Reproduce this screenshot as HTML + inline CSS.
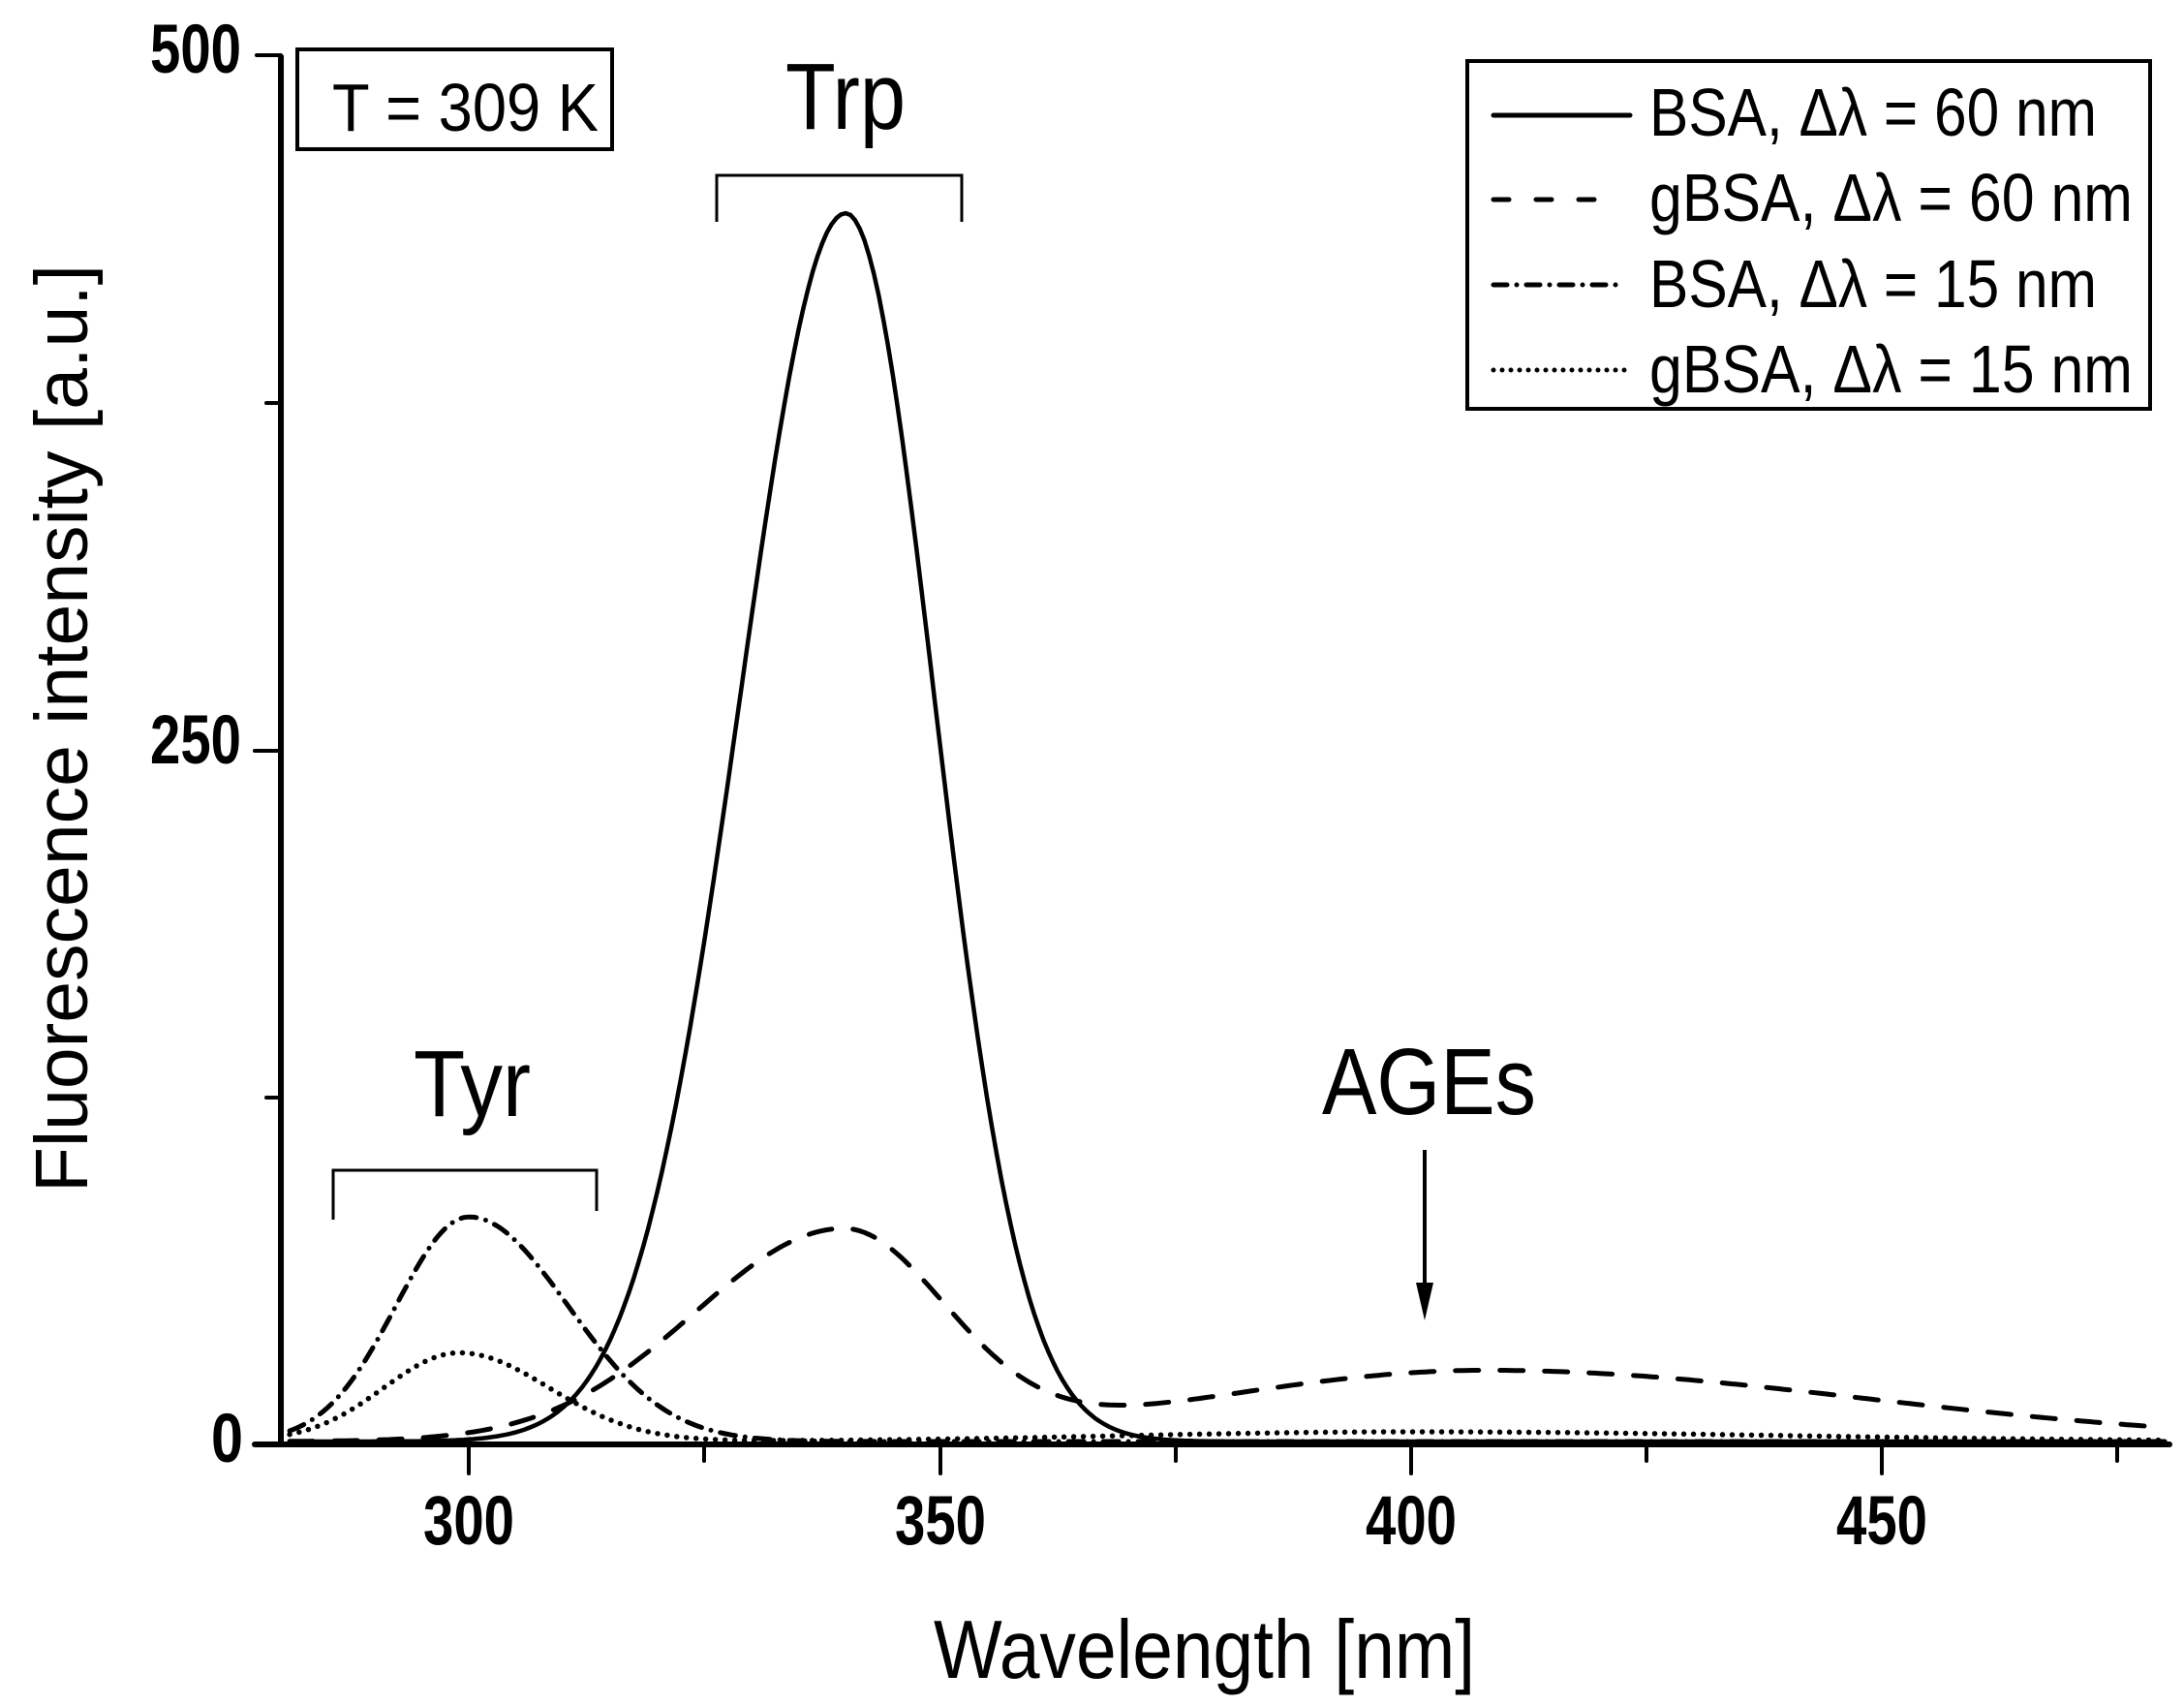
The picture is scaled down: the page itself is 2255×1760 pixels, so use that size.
<!DOCTYPE html>
<html><head><meta charset="utf-8"><style>
html,body{margin:0;padding:0;background:#fff;}
svg{display:block;}
text{font-family:"Liberation Sans",sans-serif;fill:#000;}
</style></head><body>
<svg id="s" width="2255" height="1760" viewBox="0 0 2255 1760" xmlns="http://www.w3.org/2000/svg">
<rect width="2255" height="1760" fill="#fff"/>
<g id="curves" fill="none" stroke="#000" stroke-linejoin="round"></g>
<!-- axes -->
<line x1="290" y1="57" x2="290" y2="1494" stroke="#000" stroke-width="6"/>
<line x1="263" y1="1491" x2="2240" y2="1491" stroke="#000" stroke-width="6" stroke-linecap="round"/>
<g stroke="#000" stroke-width="4" stroke-linecap="round">
<line x1="265" y1="57" x2="290" y2="57"/>
<line x1="263" y1="775" x2="290" y2="775"/>
<line x1="275" y1="416" x2="290" y2="416"/>
<line x1="275" y1="1133" x2="290" y2="1133"/>
<line x1="484" y1="1491" x2="484" y2="1521"/>
<line x1="971" y1="1491" x2="971" y2="1521"/>
<line x1="1457" y1="1491" x2="1457" y2="1521"/>
<line x1="1943" y1="1491" x2="1943" y2="1521"/>
<line x1="727" y1="1491" x2="727" y2="1508"/>
<line x1="1214" y1="1491" x2="1214" y2="1508"/>
<line x1="1700" y1="1491" x2="1700" y2="1508"/>
<line x1="2186" y1="1491" x2="2186" y2="1508"/>
</g>
<g font-weight="bold" font-size="71">
<text x="155" y="75" textLength="94" lengthAdjust="spacingAndGlyphs">500</text>
<text x="155" y="788" textLength="94" lengthAdjust="spacingAndGlyphs">250</text>
<text x="218" y="1509" textLength="33" lengthAdjust="spacingAndGlyphs">0</text>
<text x="437" y="1594" textLength="94" lengthAdjust="spacingAndGlyphs">300</text>
<text x="924" y="1594" textLength="94" lengthAdjust="spacingAndGlyphs">350</text>
<text x="1410" y="1594" textLength="94" lengthAdjust="spacingAndGlyphs">400</text>
<text x="1896" y="1594" textLength="94" lengthAdjust="spacingAndGlyphs">450</text>
</g>
<text x="964" y="1732" font-size="85" textLength="559" lengthAdjust="spacingAndGlyphs">Wavelength [nm]</text>
<text transform="translate(90,1231) rotate(-90)" font-size="77" textLength="958" lengthAdjust="spacingAndGlyphs">Fluorescence intensity [a.u.]</text>
<!-- T box -->
<rect x="307" y="51" width="325" height="103" fill="none" stroke="#000" stroke-width="4"/>
<text x="343" y="135" font-size="70" textLength="275" lengthAdjust="spacingAndGlyphs">T = 309 K</text>
<!-- annotations -->
<text x="811" y="133" font-size="97" textLength="124" lengthAdjust="spacingAndGlyphs">Trp</text>
<polyline points="740,229 740,181 993,181 993,229" fill="none" stroke="#000" stroke-width="3"/>
<text x="427" y="1152" font-size="97" textLength="121" lengthAdjust="spacingAndGlyphs">Tyr</text>
<polyline points="344,1259 344,1208 616,1208 616,1250" fill="none" stroke="#000" stroke-width="3"/>
<text x="1365" y="1150" font-size="97" textLength="221" lengthAdjust="spacingAndGlyphs">AGEs</text>
<line x1="1471" y1="1187" x2="1471" y2="1326" stroke="#000" stroke-width="4"/>
<polygon points="1462,1324 1480,1324 1471,1363" fill="#000"/>
<!-- legend -->
<rect x="1515" y="63" width="705" height="359" fill="#fff" stroke="#000" stroke-width="4"/>
<g stroke="#000" stroke-width="5" stroke-linecap="round" fill="none">
<line x1="1542" y1="119" x2="1683" y2="119"/>
<line x1="1542" y1="206" x2="1652" y2="206" stroke-dasharray="16 28"/>
<line x1="1542" y1="294" x2="1676" y2="294" stroke-dasharray="14 10 0 10"/>
<line x1="1542" y1="382" x2="1680" y2="382" stroke-dasharray="0 9"/>
</g>
<g font-size="70">
<text x="1703" y="140" textLength="462" lengthAdjust="spacingAndGlyphs">BSA, Δλ = 60 nm</text>
<text x="1703" y="228" textLength="499" lengthAdjust="spacingAndGlyphs">gBSA, Δλ = 60 nm</text>
<text x="1703" y="317" textLength="462" lengthAdjust="spacingAndGlyphs">BSA, Δλ = 15 nm</text>
<text x="1703" y="405" textLength="499" lengthAdjust="spacingAndGlyphs">gBSA, Δλ = 15 nm</text>
</g>
</svg>
<script>
(function(){
function g(l,c,sl,sr){var s=l<c?sl:sr;return Math.exp(-(l-c)*(l-c)/(2*s*s));}
function X(l){return 484+(l-300)*9.73;}
function Y(v){return 1488-v*2.862;}
var fs=[
 [function(l){return 443*g(l,340,11.2,9.4);},"",4.5],
 [function(l){return 75*g(l,339.5,15.7,11)+25.7*g(l,408,30,40);},"24 22",5],
 [function(l){return 81*g(l,300,7.7,10.5);},"16 10 0 10",5],
 [function(l){return 32*g(l,299,8,9.5)+3.5*g(l,400,30,40);},"0 10",5.5]
];
var G=document.getElementById('curves');
fs.forEach(function(f){
 var d="";
 for(var l=281;l<=480;l+=0.5){d+=(l==281?"M":"L")+X(l).toFixed(1)+","+Y(f[0](l)).toFixed(1);}
 var p=document.createElementNS("http://www.w3.org/2000/svg","path");
 p.setAttribute("d",d);p.setAttribute("stroke-width",f[2]);
 if(f[1]){p.setAttribute("stroke-dasharray",f[1]);p.setAttribute("stroke-linecap","round");}
 G.appendChild(p);
});
})();
</script>
</body></html>
